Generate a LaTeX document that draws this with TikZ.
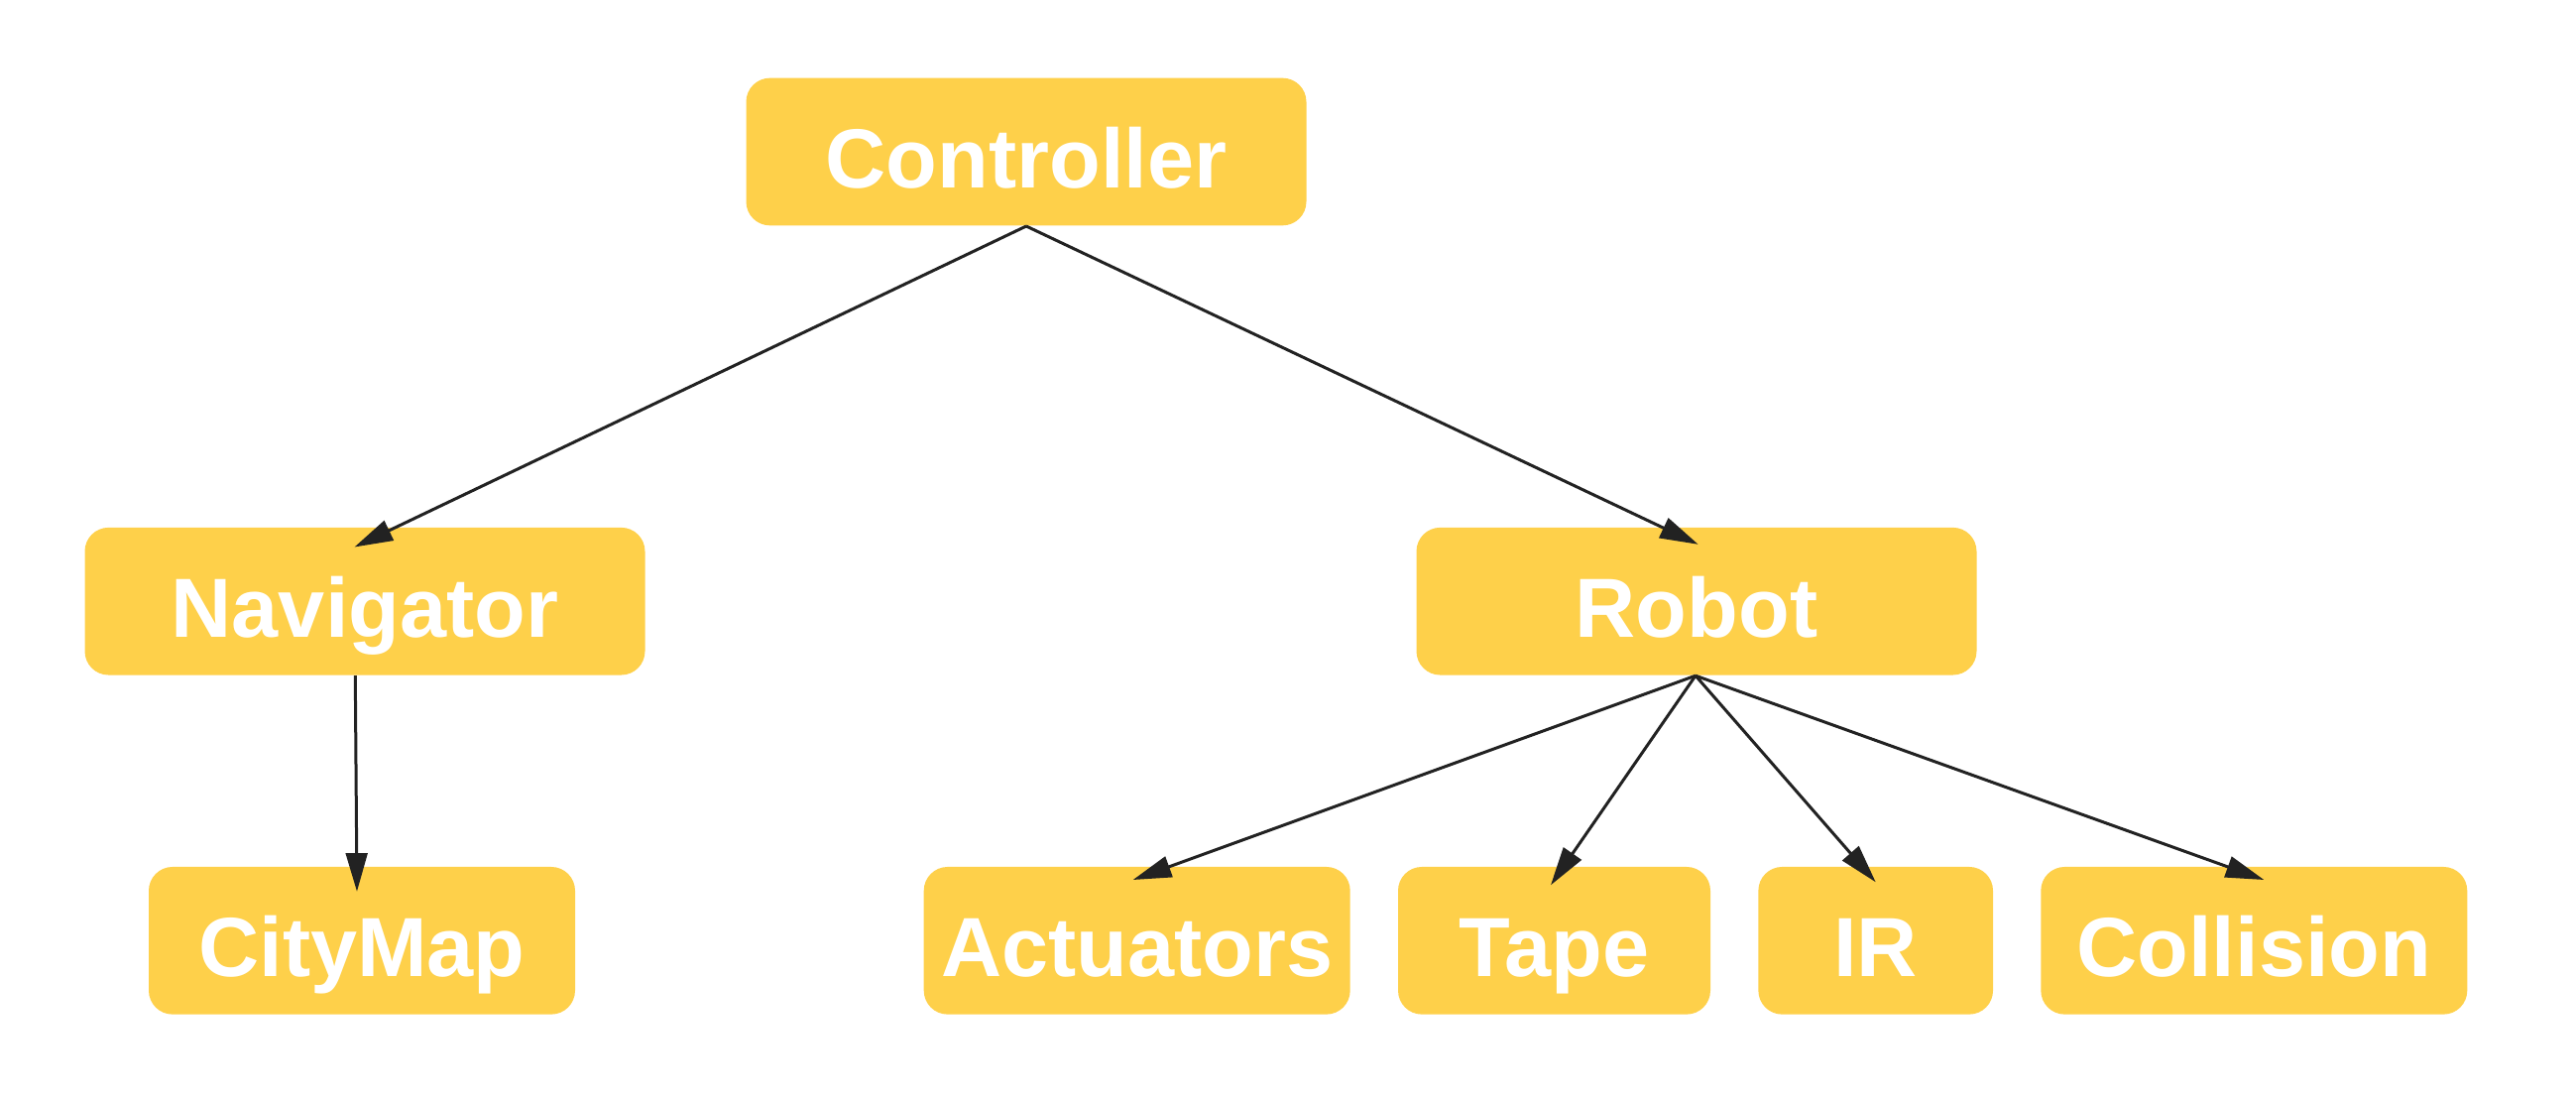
\documentclass[tikz,border=0pt]{standalone}
\usepackage{fontspec}
\setmainfont{Liberation Sans}
\usetikzlibrary{arrows.meta}
\definecolor{boxfill}{RGB}{254,208,74}
\definecolor{edgecol}{RGB}{34,34,34}
\tikzset{
  box/.style={fill=boxfill, draw=none, rounded corners=7.2pt, inner sep=0pt,
    text=white, font=\fontsize{25.4pt}{30pt}\selectfont\bfseries,
    text height=26.9pt, text depth=5pt, minimum height=44.6pt},
  wide/.style={box, minimum width=169.5pt},
  low/.style={box, minimum width=129pt},
  edge/.style={draw=edgecol, line width=0.9pt,
    -{Triangle[length=11.6pt, width=6.5pt]}}
}
\begin{document}
\begin{tikzpicture}[x=0.3pt, y=-0.3pt]
\useasboundingbox (0,0) rectangle (2598,1110);
\node[wide] (C) at (1035,153) {Controller};
\node[wide] (N) at (368,606.2) {Navigator};
\node[wide] (R) at (1711,606.2) {Robot};
\node[low] (M) at (365,948.3) {CityMap};
\node[low] (A) at (1146.7,948.3) {Actuators};
\node[box, minimum width=94.5pt] (T) at (1567.5,948.3) {Tape};
\node[box, minimum width=71pt] (I) at (1891.7,948.3) {IR};
\node[low] (K) at (2273.3,948.3) {Collision};
\draw[edge] (C.south) -- ([shift={(-10.5,20.3)}]N.north);
\draw[edge] (C.south) -- ([shift={(1.7,17.6)}]R.north);
\draw[edge] ([shift={(-9.7,0)}]N.south) -- ([shift={(-5,25.5)}]M.north);
\draw[edge] ([shift={(-1,0)}]R.south) -- ([shift={(-4,13.7)}]A.north);
\draw[edge] ([shift={(-1,0)}]R.south) -- ([shift={(-3.5,19)}]T.north);
\draw[edge] ([shift={(-1,0)}]R.south) -- ([shift={(0,16)}]I.north);
\draw[edge] ([shift={(-1,0)}]R.south) -- ([shift={(10,13.7)}]K.north);
\end{tikzpicture}
\end{document}
